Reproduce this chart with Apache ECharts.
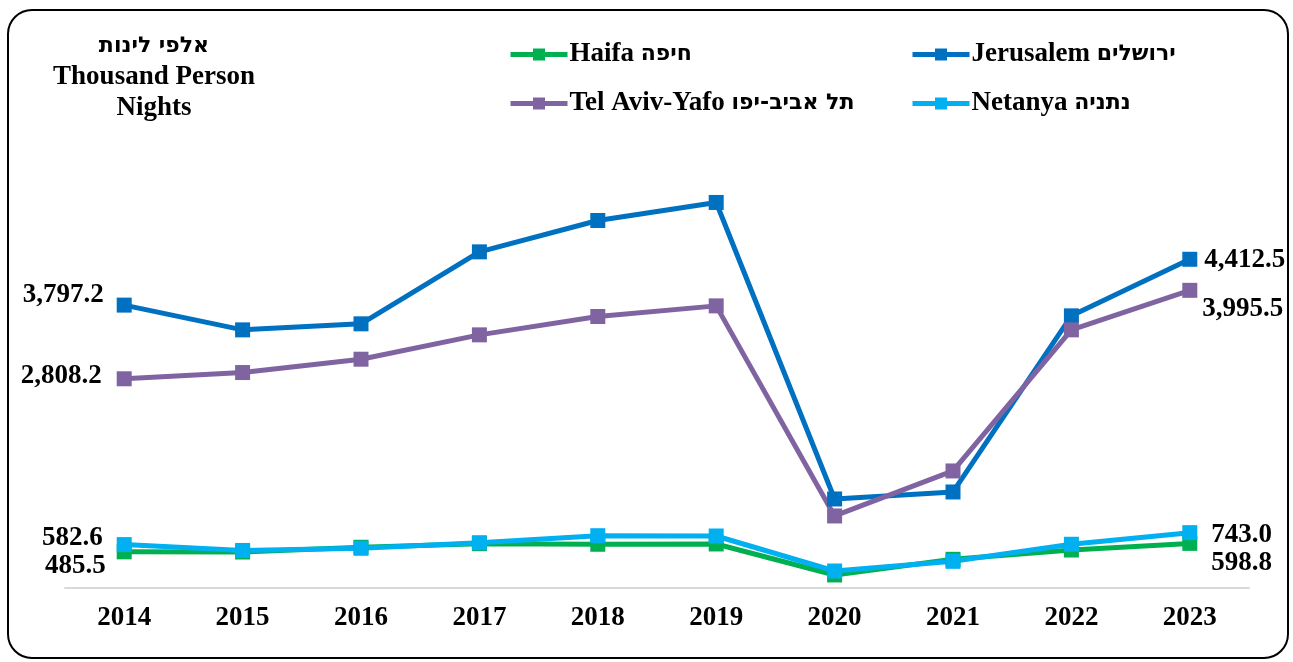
<!DOCTYPE html>
<html><head><meta charset="utf-8">
<script src="https://cdn.jsdelivr.net/npm/echarts@6/dist/echarts.min.js"></script>
<style>html,body{margin:0;padding:0;background:#fff}#c{width:1293px;height:662px}</style>
</head><body><div id="c"></div>
<script>
const years = ['2014','2015','2016','2017','2018','2019','2020','2021','2022','2023'];
const haifa     = [485.5, 483, 547, 595, 587, 591, 175, 385, 510, 598.8];
const jerusalem = [3797.2, 3465, 3546, 4512, 4933, 5175, 1195, 1289, 3653, 4412.5];
const telAviv   = [2808.2, 2892, 3071, 3398, 3644, 3787, 967, 1571, 3465, 3995.5];
const netanya   = [582.6, 504, 533, 608, 702, 698, 228, 358, 587, 743.0];
const names = ['Haifa חיפה','Jerusalem ירושלים','Tel Aviv-Yafo תל אביב-יפו','Netanya נתניה'];
const titleLines = ['אלפי לינות','Thousand Person','Nights'];

const FONT = '"Liberation Serif"';
const HFONT = '"DejaVu Sans"';
const FS = 27, HFS = 22;
const fmt = v => v.toLocaleString('en-US',{minimumFractionDigits:1,maximumFractionDigits:1});
const rich = {
  e:{fontFamily:FONT, fontWeight:'bold', fontSize:FS, color:'#000'},
  h:{fontFamily:HFONT, fontWeight:'bold', fontSize:HFS, color:'#000'}
};
function splitName(n){
  const i = n.search(/[\u0590-\u05FF]/);
  if(i<0) return '{e|'+n+'}';
  return '{e|'+n.slice(0,i)+'}{h|'+n.slice(i)+'}';
}
function mk(vals, first, last){
  return vals.map((v,i)=>{
    const o = {value:v};
    if(i===0) o.label = Object.assign({show:true, position:'left'}, first);
    else if(i===vals.length-1) o.label = Object.assign({show:true, position:'right'}, last);
    return o;
  });
}
const labelBase = {show:false, formatter:p=>fmt(p.value), color:'#000', fontFamily:FONT, fontWeight:'bold', fontSize:FS};
function series(name, vals, color, first, last){
  return {name, type:'line', data:mk(vals, first, last), symbol:'rect', symbolSize:15,
    lineStyle:{width:5,color}, itemStyle:{color}, label:labelBase, animation:false};
}
const chart = echarts.init(document.getElementById('c'));
function leg(name, left, top){
  return {data:[name], left, top, itemWidth:57, itemHeight:15, padding:0,
    lineStyle:{width:5}, formatter:splitName,
    textStyle:{fontFamily:FONT, fontWeight:'bold', fontSize:FS, color:'#000', padding:[0,0,0,-3], rich}, selectedMode:false};
}
chart.setOption({
  animation:false,
  graphic:[
    {type:'rect', shape:{x:8,y:10,width:1280,height:648,r:24}, style:{fill:'none',stroke:'#000',lineWidth:2}},
    {type:'text', x:154, y:31, style:{text:titleLines.map(splitName).join('\n'), textAlign:'center', textVerticalAlign:'top',
      font:'bold '+FS+'px '+FONT, lineHeight:31, fill:'#000',
      rich:{e:Object.assign({lineHeight:31},rich.e), h:Object.assign({lineHeight:31},rich.h)}}}
  ],
  legend:[leg(names[0],508,41), leg(names[1],910,41), leg(names[2],508,90), leg(names[3],910,90)],
  grid:{left:65, right:44, top:141, bottom:74},
  xAxis:{type:'category', data:years, boundaryGap:true,
    axisLine:{lineStyle:{color:'#D9D9D9',width:2}}, axisTick:{show:false},
    axisLabel:{color:'#000', fontFamily:FONT, fontWeight:'bold', fontSize:FS, margin:17}},
  yAxis:{type:'value', min:0, max:6000, show:false, splitLine:{show:false}},
  series:[
    series(names[0], haifa, '#00B050', {distance:11, offset:[0,14]}, {distance:14, offset:[0,20]}),
    series(names[1], jerusalem, '#0070C0', {distance:13, offset:[0,-10]}, {distance:7, offset:[0,1]}),
    series(names[2], telAviv, '#8064A2', {distance:15, offset:[0,-3]}, {distance:5, offset:[0,19]}),
    series(names[3], netanya, '#00B0F0', {distance:14, offset:[0,-7]}, {distance:14, offset:[0,2]})
  ]
});
</script></body></html>
